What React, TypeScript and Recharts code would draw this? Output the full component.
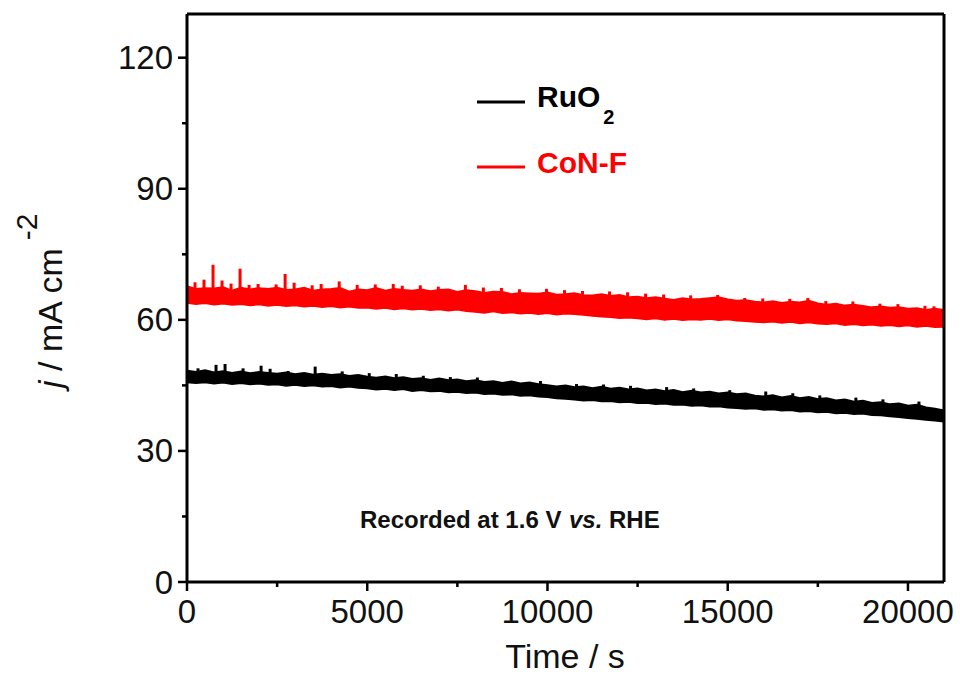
import React from 'react';
import { ComposedChart, Area, Bar, XAxis, YAxis, ReferenceLine } from 'recharts';

// sampling times (s)
const times = [
  0, 250, 500, 750, 1000, 1250, 1500, 1750, 2000, 2250,
  2500, 2750, 3000, 3250, 3500, 3750, 4000, 4250, 4500, 4750,
  5000, 5250, 5500, 5750, 6000, 6250, 6500, 6750, 7000, 7250,
  7500, 7750, 8000, 8250, 8500, 8750, 9000, 9250, 9500, 9750,
  10000, 10250, 10500, 10750, 11000, 11250, 11500, 11750, 12000, 12250,
  12500, 12750, 13000, 13250, 13500, 13750, 14000, 14250, 14500, 14750,
  15000, 15250, 15500, 15750, 16000, 16250, 16500, 16750, 17000, 17250,
  17500, 17750, 18000, 18250, 18500, 18750, 19000, 19250, 19500, 19750,
  20000, 20250, 20500, 20750, 21000,
];

// CoN-F noise band (upper / lower envelope, mA cm-2)
const conHi = [
  67.6, 67.0, 67.2, 67.1, 67.4, 66.6, 67.3, 66.9, 67.2, 67.0,
  67.3, 66.8, 66.9, 67.3, 66.6, 66.9, 67.0, 67.2, 66.4, 66.9,
  66.7, 67.2, 66.6, 67.0, 66.8, 66.6, 66.9, 66.5, 66.8, 66.9,
  66.3, 66.7, 66.5, 66.1, 66.4, 66.3, 65.8, 66.1, 66.0, 65.9,
  66.2, 65.7, 65.8, 66.0, 65.6, 65.5, 65.8, 65.4, 65.6, 65.1,
  65.2, 64.9, 65.1, 64.8, 64.5, 64.9, 64.6, 64.7, 64.9, 65.1,
  64.6, 64.3, 64.4, 64.1, 63.9, 64.2, 63.8, 64.1, 63.9, 64.3,
  63.7, 63.4, 63.6, 63.2, 63.4, 63.1, 62.8, 63.0, 62.7, 62.8,
  62.5, 62.6, 62.2, 62.5, 62.2,
];
const conLo = [
  64.0, 63.7, 63.9, 63.6, 63.8, 63.5, 63.7, 63.4, 63.6, 63.3,
  63.5, 63.2, 63.4, 63.1, 63.3, 63.0, 63.2, 62.9, 63.1, 62.8,
  62.9, 62.6, 62.8, 62.5, 62.7, 62.4, 62.6, 62.3, 62.5, 62.2,
  62.4, 62.1, 61.9, 61.7, 62.0, 61.6, 61.8, 61.5, 61.7, 61.4,
  61.6, 61.3, 61.5, 61.4, 61.2, 61.0, 60.8, 60.7, 60.5, 60.6,
  60.4, 60.2, 60.4, 60.1, 60.3, 60.0, 60.2, 60.1, 60.3, 60.0,
  60.2, 59.9, 59.8, 59.6, 59.5, 59.7, 59.4, 59.6, 59.3, 59.5,
  59.2, 59.1, 59.3, 58.9, 59.1, 58.8, 59.0, 58.7, 58.9, 58.6,
  58.8, 58.5, 58.7, 58.4, 58.5,
];

// RuO2 noise band
const ruHi = [
  48.3, 48.0, 48.4, 47.9, 48.2, 47.8, 48.1, 47.7, 48.0, 47.8,
  47.6, 47.9, 47.5, 47.8, 47.4, 47.6, 47.3, 47.5, 47.1, 47.3,
  46.9, 46.7, 47.0, 46.6, 46.8, 46.4, 46.6, 46.2, 46.5, 46.1,
  46.3, 45.9, 46.1, 45.7, 45.9, 45.5, 45.8, 45.4, 45.6, 45.2,
  45.0, 44.7, 44.9, 44.5, 44.7, 44.3, 44.6, 44.2, 44.4, 44.0,
  44.2, 43.8, 44.0, 43.6, 43.9, 43.4, 43.7, 43.3, 43.5, 43.1,
  43.3, 42.9, 43.1, 42.6, 42.4, 42.7, 42.2, 42.5, 42.0, 42.3,
  41.8, 42.0, 41.5, 41.7, 41.2, 41.4, 40.9, 41.1, 40.6, 40.8,
  40.3, 40.5, 39.9, 39.6, 39.2,
];
const ruLo = [
  45.8, 45.6, 45.8, 45.5, 45.7, 45.4, 45.6, 45.3, 45.5, 45.2,
  45.3, 45.0, 45.2, 44.9, 45.1, 44.8, 44.9, 44.6, 44.8, 44.5,
  44.4, 44.1, 44.3, 44.0, 44.2, 43.8, 44.0, 43.7, 43.8, 43.5,
  43.6, 43.3, 43.4, 43.1, 43.2, 42.9, 43.0, 42.7, 42.8, 42.5,
  42.4, 42.1, 42.0, 41.8, 41.6, 41.7, 41.4, 41.5, 41.2, 41.3,
  41.0, 41.1, 40.8, 40.9, 40.6, 40.7, 40.4, 40.5, 40.2, 40.3,
  40.0, 39.9, 39.7, 39.8, 39.5, 39.6, 39.3, 39.4, 39.1, 39.2,
  38.9, 39.0, 38.7, 38.8, 38.5, 38.6, 38.3, 38.2, 38.0, 37.8,
  37.6, 37.4, 37.2, 37.0, 36.8,
];

// current spikes above the band (time s, peak mA cm-2)
const conSpikeT = [
  0, 250, 500, 750, 1000, 1250, 1500, 1750, 2000, 2500, 2750, 3000, 3500, 3750, 4250,
  4750, 5250, 5750, 6000, 6500, 7000, 7750, 8250, 8750, 9250, 10000, 10500, 11000,
  11750, 12250, 12750, 13250, 14000, 14750, 15500, 16000, 16750, 17250, 17750, 18500,
  19250, 19750, 20500, 20750,
];
const conSpikeV = [
  72.6, 68.6, 69.2, 72.6, 69.0, 68.3, 71.7, 68.0, 68.2, 68.1, 70.5, 68.5, 67.9, 68.2, 68.8,
  68.0, 68.1, 68.2, 67.8, 67.9, 67.6, 68.0, 67.4, 67.3, 67.0, 67.1, 66.8, 66.6,
  66.5, 66.3, 66.0, 65.8, 65.6, 65.7, 65.0, 64.9, 64.8, 65.0, 64.3, 64.2,
  63.7, 63.6, 63.2, 63.1,
];
const ruSpikeT = [
  250, 750, 1000, 1500, 2000, 2250, 2750, 3500, 4250, 5000, 5750, 6500, 7250, 8000,
  9000, 9750, 10750, 11500, 12250, 13250, 14000, 15000, 16000, 16750, 17500, 18500,
  19250, 20250,
];
const ruSpikeV = [
  48.9, 49.7, 49.9, 48.9, 49.5, 48.8, 48.3, 49.3, 48.2, 47.8, 47.6, 47.2, 46.9, 46.8,
  46.0, 46.0, 45.3, 45.2, 44.9, 44.6, 44.3, 43.9, 43.6, 43.2, 42.7, 42.2,
  41.8, 41.3,
];

const xTicks = [0, 2500, 5000, 7500, 10000, 12500, 15000, 17500, 20000];
const yTicks = [0, 15, 30, 45, 60, 75, 90, 105, 120];

const data = times.map((t, i) => {
  const ci = conSpikeT.indexOf(t);
  const ri = ruSpikeT.indexOf(t);
  return {
    t,
    con: [conLo[i], conHi[i]],
    ru: [ruLo[i], ruHi[i]],
    conSpike: ci >= 0 ? [conHi[i] - 0.5, conSpikeV[ci]] : null,
    ruSpike: ri >= 0 ? [ruHi[i] - 0.5, ruSpikeV[ri]] : null,
  };
});

const FONT = '"Liberation Sans", Arial, sans-serif';

const XTick = (props: any) => {
  const { x, y, payload } = props;
  const major = payload.value % 5000 === 0;
  return (
    <g>
      <line x1={x} x2={x} y1={y} y2={y + (major ? 9 : 5)} stroke="#000" strokeWidth={2.5} />
      {major && (
        <text x={x} y={y + 41} textAnchor="middle" fontSize={33} fill="#111" fontFamily={FONT}>
          {payload.value}
        </text>
      )}
    </g>
  );
};

const YTick = (props: any) => {
  const { x, y, payload } = props;
  const major = payload.value % 30 === 0;
  return (
    <g>
      <line x1={x - (major ? 9 : 5)} x2={x} y1={y} y2={y} stroke="#000" strokeWidth={2.5} />
      {major && (
        <text x={x - 14} y={y + 11.5} textAnchor="end" fontSize={33} fill="#111" fontFamily={FONT}>
          {payload.value}
        </text>
      )}
    </g>
  );
};

export default function App() {
  return (
    <div style={{ position: 'absolute', left: 0, top: 0, width: 960, height: 686, background: '#fff', fontFamily: FONT }}>
      <ComposedChart
        width={960}
        height={686}
        data={data}
        margin={{ top: 14, right: 16, bottom: 64, left: 107 }}
      >
        <XAxis
          dataKey="t"
          type="number"
          domain={[0, 21000]}
          ticks={xTicks}
          allowDataOverflow
          height={40}
          tickSize={0}
          tickMargin={0}
          tick={<XTick />}
          axisLine={{ stroke: '#000', strokeWidth: 3 }}
          tickLine={false}
          interval={0}
        />
        <YAxis
          type="number"
          domain={[0, 130]}
          ticks={yTicks}
          allowDataOverflow
          width={80}
          tickSize={0}
          tickMargin={0}
          tick={<YTick />}
          axisLine={{ stroke: '#000', strokeWidth: 3 }}
          tickLine={false}
          interval={0}
        />
        <ReferenceLine y={130} stroke="#000" strokeWidth={3} />
        <ReferenceLine x={21000} stroke="#000" strokeWidth={3} />
        <Area
          type="linear"
          dataKey="con"
          stroke="#ff0000"
          strokeWidth={2.5}
          fill="#ff0000"
          fillOpacity={1}
          isAnimationActive={false}
        />
        <Area
          type="linear"
          dataKey="ru"
          stroke="#000"
          strokeWidth={2.5}
          fill="#000"
          fillOpacity={1}
          isAnimationActive={false}
        />
        <Bar dataKey="conSpike" fill="#ff0000" barSize={3} isAnimationActive={false} />
        <Bar dataKey="ruSpike" fill="#000" barSize={3} isAnimationActive={false} />
      </ComposedChart>

      <svg
        width={960}
        height={686}
        style={{ position: 'absolute', left: 0, top: 0, pointerEvents: 'none' }}
        fontFamily={FONT}
      >
        {/* y axis title */}
        <text x={62} y={388} transform="rotate(-90 62 388)" fontSize={34} fill="#111">
          <tspan fontStyle="italic">j</tspan> / mA cm
          <tspan dx={8} dy={-25} fontSize={30}>-2</tspan>
        </text>
        {/* x axis title */}
        <text x={565} y={668} textAnchor="middle" fontSize={34} fill="#111">Time / s</text>

        {/* legend */}
        <line x1={477} x2={525} y1={102} y2={102} stroke="#000" strokeWidth={3} />
        <text x={537} y={107} fontSize={30} fontWeight="bold" fill="#000">
          RuO<tspan dx={3} dy={17} fontSize={20}>2</tspan>
        </text>
        <line x1={477} x2={525} y1={167} y2={167} stroke="#ff0000" strokeWidth={3} />
        <text x={537} y={173} fontSize={30} fontWeight="bold" fill="#ff0000">CoN-F</text>

        {/* annotation */}
        <text x={360} y={528} fontSize={24} fontWeight="bold" fill="#111">Recorded at 1.6 V</text>
        <text x={569} y={528} fontSize={24} fontWeight="bold" fontStyle="italic" fill="#111">vs.</text>
        <text x={609} y={528} fontSize={24} fontWeight="bold" fill="#111">RHE</text>
      </svg>
    </div>
  );
}
